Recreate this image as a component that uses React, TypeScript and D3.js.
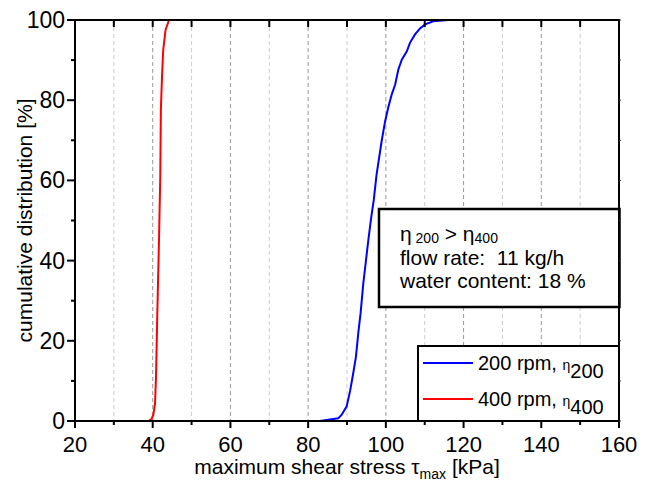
import React from "react";
import * as d3 from "d3";

const blueX = [83.0, 87.75, 88.6, 89.9, 90.8, 91.6, 92.3, 92.9, 93.5, 94.2, 94.9, 95.5, 96.2, 96.9, 97.6, 98.9, 99.8, 100.6, 101.5, 102.4, 103.2, 104.1, 105.4, 106.2, 107.5, 108.8, 110.1, 112.2, 116.1];
const blueY = [0, 0.7, 1.5, 3.6, 7.5, 11.9, 16, 21.9, 26.9, 34.4, 40.2, 45.2, 50.5, 55.2, 61.4, 69.7, 74.7, 78.1, 81.4, 83.9, 87.6, 90.1, 92.2, 94.3, 96.4, 97.9, 98.9, 99.7, 100];
const redX = [38.9, 39.7, 40.15, 40.6, 40.85, 41.2, 41.6, 41.95, 42.1, 42.4, 42.7, 43.3, 44.2];
const redY = [0, 0.5, 1.5, 4.4, 11, 27.7, 44.4, 61, 77.7, 86, 92.5, 97.5, 100];

const xMajor = [20, 40, 60, 80, 100, 120, 140, 160];
const xMinor = [30, 50, 70, 90, 110, 130, 150];
const yMajor = [0, 20, 40, 60, 80, 100];
const yMinor = [10, 30, 50, 70, 90];

const W = 651, H = 483;
const L = 75, R = 619, T = 20, B = 421;
const FONT = "'Liberation Sans', Arial, sans-serif";

export default function App() {
  const x = d3.scaleLinear().domain([20, 160]).range([L, R]);
  const y = d3.scaleLinear().domain([0, 100]).range([B, T]);
  const line = d3.line<[number, number]>().x(d => x(d[0])).y(d => y(d[1]));
  const blue = line(blueX.map((v, i) => [v, blueY[i]]) as [number, number][]) || "";
  const red = line(redX.map((v, i) => [v, redY[i]]) as [number, number][]) || "";
  const gridX = [...xMajor, ...xMinor].filter(v => v > 20 && v < 160);

  return (
    <svg width={W} height={H} style={{ position: "absolute", left: 0, top: 0, background: "#fff" }} fontFamily={FONT}>
      <rect x={0} y={0} width={W} height={H} fill="#fff" />
      {gridX.map(v => (
        <line key={"g" + v} x1={x(v)} x2={x(v)} y1={T} y2={B}
          stroke={xMajor.includes(v) ? "#999" : "#ccc"} strokeWidth={1} strokeDasharray="4,3" />
      ))}
      <path d={red} fill="none" stroke="#ff0000" strokeWidth={2} />
      <path d={blue} fill="none" stroke="#0000ff" strokeWidth={2} />

      {/* text box */}
      <rect x={379} y={209} width={240.5} height={98} fill="#fff" stroke="#000" strokeWidth={2.5} />
      <text x={400} y={240.5} fontSize={21} fill="#000">
        <tspan>η</tspan>
        <tspan fontSize={14} dy={2}> 200</tspan>
        <tspan dy={-2}> &gt; η</tspan>
        <tspan fontSize={14} dy={2}>400</tspan>
      </text>
      <text x={400} y={265} fontSize={21} fill="#000" style={{ whiteSpace: "pre" }}>flow rate:  11 kg/h</text>
      <text x={400} y={288} fontSize={21} fill="#000">water content: 18 %</text>

      {/* legend */}
      <rect x={418} y={346} width={201} height={75} fill="#fff" stroke="#000" strokeWidth={2} />
      <line x1={423} x2={473} y1={363} y2={363} stroke="#0000ff" strokeWidth={2} />
      <line x1={423} x2={473} y1={399} y2={399} stroke="#ff0000" strokeWidth={2} />
      <text x={478} y={370} fontSize={20} fill="#000">
        <tspan>200 rpm, </tspan>
        <tspan fontSize={14}>η</tspan>
        <tspan dy={8}>200</tspan>
      </text>
      <text x={478} y={406} fontSize={20} fill="#000">
        <tspan>400 rpm, </tspan>
        <tspan fontSize={14}>η</tspan>
        <tspan dy={8}>400</tspan>
      </text>

      {/* frame */}
      <rect x={L} y={T} width={R - L} height={B - T} fill="none" stroke="#000" strokeWidth={2} />

      {/* bottom ticks */}
      {xMajor.map(v => <line key={"bx" + v} x1={x(v)} x2={x(v)} y1={B} y2={B + 7} stroke="#000" strokeWidth={2} />)}
      {xMinor.map(v => <line key={"bm" + v} x1={x(v)} x2={x(v)} y1={B} y2={B + 4} stroke="#000" strokeWidth={2} />)}
      {/* top ticks */}
      {[...xMajor, ...xMinor].map(v => <line key={"tx" + v} x1={x(v)} x2={x(v)} y1={T} y2={T + 7} stroke="#000" strokeWidth={2} />)}
      {/* left ticks */}
      {yMajor.map(v => <line key={"ly" + v} x1={L - 8} x2={L} y1={y(v)} y2={y(v)} stroke="#000" strokeWidth={2} />)}
      {yMinor.map(v => <line key={"lm" + v} x1={L - 4} x2={L} y1={y(v)} y2={y(v)} stroke="#000" strokeWidth={2} />)}
      {/* right ticks (barely visible) */}
      {[...yMajor, ...yMinor].map(v => <line key={"ry" + v} x1={R} x2={R + 2} y1={y(v)} y2={y(v)} stroke="#333" strokeWidth={1} />)}

      {/* tick labels */}
      {xMajor.map(v => (
        <text key={"xl" + v} x={x(v)} y={452} fontSize={22} textAnchor="middle" fill="#000">{v}</text>
      ))}
      {yMajor.map(v => (
        <text key={"yl" + v} x={65} y={y(v)} fontSize={23} textAnchor="end" dominantBaseline="central" fill="#000">{v}</text>
      ))}

      {/* axis titles */}
      <text x={(L + R) / 2} y={474} fontSize={21} textAnchor="middle" fill="#000">
        <tspan>maximum shear stress τ</tspan>
        <tspan fontSize={14} dy={5}>max</tspan>
        <tspan dy={-5}> [kPa]</tspan>
      </text>
      <text transform={`translate(32, ${(T + B) / 2}) rotate(-90)`} fontSize={21} textAnchor="middle" fill="#000">
        cumulative distribution [%]
      </text>
    </svg>
  );
}
